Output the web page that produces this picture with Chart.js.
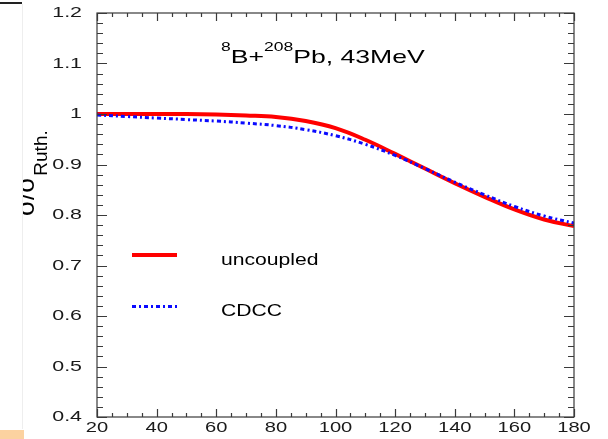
<!DOCTYPE html>
<html>
<head>
<meta charset="utf-8">
<script src="https://cdn.jsdelivr.net/npm/chart.js@4.4.1/dist/chart.umd.min.js"></script>
<style>
  html, body { margin: 0; padding: 0; background: #fff; }
  #wrap { position: relative; width: 608px; height: 439px; overflow: hidden; }
  #c { position: absolute; left: 0; top: 0; }
  .edge { position: absolute; }
</style>
</head>
<body>
<div id="wrap">
  <canvas id="c" width="608" height="439"></canvas>
  <div class="edge" style="left:0;top:2px;width:22px;height:2px;background:#222;"></div>
  <div class="edge" style="left:22px;top:4px;width:1px;height:425px;background:#eee;"></div>
  <div class="edge" style="left:0;top:430px;width:24px;height:9px;background:#fcd2a0;"></div>
</div>
<script>
// scattering angle (deg) and cross-section ratio
const angles = [20, 30, 40, 50, 60, 70, 80, 90, 100, 110, 120, 130, 140, 150, 160, 170, 180];
const uncoupled = [1.000, 1.000, 1.000, 1.000, 0.999, 0.997, 0.994, 0.986, 0.972, 0.949, 0.921, 0.892, 0.863, 0.836, 0.811, 0.791, 0.778];
const cdcc = [0.998, 0.995, 0.992, 0.989, 0.986, 0.982, 0.977, 0.969, 0.957, 0.940, 0.918, 0.892, 0.865, 0.840, 0.817, 0.798, 0.784];

const xTickLabels = ["20", "40", "60", "80", "100", "120", "140", "160", "180"];
const yTickLabels = ["0.4", "0.5", "0.6", "0.7", "0.8", "0.9", "1", "1.1", "1.2"];

const FONT = '"Liberation Sans", Arial, Helvetica, sans-serif';
const AXIS = "#3a3a3a";

function stretchText(ctx, txt, x, y, sx, align) {
  ctx.save();
  ctx.translate(x, y);
  ctx.scale(sx, 1);
  ctx.textAlign = align;
  ctx.fillText(txt, 0, 0);
  ctx.restore();
}

// frame with inward ticks on all sides, tick labels, title, legend
const framePlugin = {
  id: "frame",
  afterDraw(chart) {
    const ctx = chart.ctx;
    const a = chart.chartArea;
    const xs = chart.scales.x;
    const ys = chart.scales.y;
    ctx.save();
    ctx.strokeStyle = AXIS;
    ctx.lineWidth = 1.2;
    ctx.strokeRect(a.left, a.top, a.right - a.left, a.bottom - a.top);

    ctx.beginPath();
    for (let v = 20; v <= 180; v += 5) {
      const px = Math.round(xs.getPixelForValue(v)) + 0.5;
      const len = v % 20 === 0 ? 8 : 4;
      ctx.moveTo(px, a.bottom); ctx.lineTo(px, a.bottom - len);
      ctx.moveTo(px, a.top); ctx.lineTo(px, a.top + len);
    }
    for (let i = 0; i <= 40; i++) {
      const v = 0.4 + i * 0.02;
      const py = Math.round(ys.getPixelForValue(v)) + 0.5;
      const len = i % 5 === 0 ? 10 : 6;
      ctx.moveTo(a.left, py); ctx.lineTo(a.left + len, py);
      ctx.moveTo(a.right, py); ctx.lineTo(a.right - len, py);
    }
    ctx.stroke();

    // tick labels
    ctx.fillStyle = "#1a1a1a";
    ctx.font = "15.5px " + FONT;
    ctx.textBaseline = "middle";
    xTickLabels.forEach(t => {
      stretchText(ctx, t, xs.getPixelForValue(+t), a.bottom + 11, 1.3, "center");
    });
    yTickLabels.forEach(t => {
      stretchText(ctx, t, a.left - 15, ys.getPixelForValue(+t), 1.38, "right");
    });

    // y axis title, clipped at the left edge like the picture
    ctx.save();
    ctx.beginPath();
    ctx.rect(22, 0, 100, chart.height);
    ctx.clip();
    ctx.translate(34, 216);
    ctx.rotate(-Math.PI / 2);
    ctx.textBaseline = "alphabetic";
    ctx.textAlign = "left";
    ctx.fillStyle = "#000";
    ctx.font = "26px " + FONT;
    ctx.fillText("σ/σ", 0, 0);
    const w = ctx.measureText("σ/σ").width;
    ctx.font = "19px " + FONT;
    ctx.fillText("Ruth.", w + 1, 13);
    ctx.restore();

    // plot title with superscripts
    ctx.fillStyle = "#000";
    ctx.textBaseline = "alphabetic";
    const parts = [["8", 12.5, -12], ["B+", 19, 0], ["208", 12.5, -12], ["Pb, 43MeV", 19, 0]];
    let x = 221;
    const sx = 1.4;
    parts.forEach(([t, size, dy]) => {
      ctx.font = size + "px " + FONT;
      stretchText(ctx, t, x, 63 + dy, sx, "left");
      x += ctx.measureText(t).width * sx;
    });

    // legend
    const rows = [[0, 255, 265], [1, 306.5, 316]];
    rows.forEach(([di, ly, ty]) => {
      const ds = chart.data.datasets[di];
      ctx.beginPath();
      ctx.strokeStyle = ds.borderColor;
      ctx.lineWidth = ds.borderWidth;
      ctx.setLineDash(ds.borderDash || []);
      ctx.moveTo(132, ly); ctx.lineTo(177, ly);
      ctx.stroke();
      ctx.setLineDash([]);
      ctx.fillStyle = "#000";
      ctx.font = "16px " + FONT;
      stretchText(ctx, ds.label, 221, ty, 1.32, "left");
    });
    ctx.restore();
  }
};

new Chart(document.getElementById("c"), {
  type: "line",
  data: {
    datasets: [
      {
        label: "uncoupled",
        data: angles.map((a, i) => ({ x: a, y: uncoupled[i] })),
        borderColor: "#ff0000",
        borderWidth: 4,
        pointRadius: 0,
        tension: 0.4,
        order: 1
      },
      {
        label: "CDCC",
        data: angles.map((a, i) => ({ x: a, y: cdcc[i] })),
        borderColor: "#0a0aff",
        borderWidth: 3,
        borderDash: [4, 3, 2, 3],
        pointRadius: 0,
        tension: 0.4,
        order: 0
      }
    ]
  },
  options: {
    responsive: false,
    animation: false,
    layout: { padding: { left: 97, right: 34, top: 13, bottom: 22 } },
    scales: {
      x: { type: "linear", min: 20, max: 180, display: false },
      y: { type: "linear", min: 0.4, max: 1.2, display: false }
    },
    plugins: { legend: { display: false }, tooltip: { enabled: false } }
  },
  plugins: [framePlugin]
});
</script>
</body>
</html>
